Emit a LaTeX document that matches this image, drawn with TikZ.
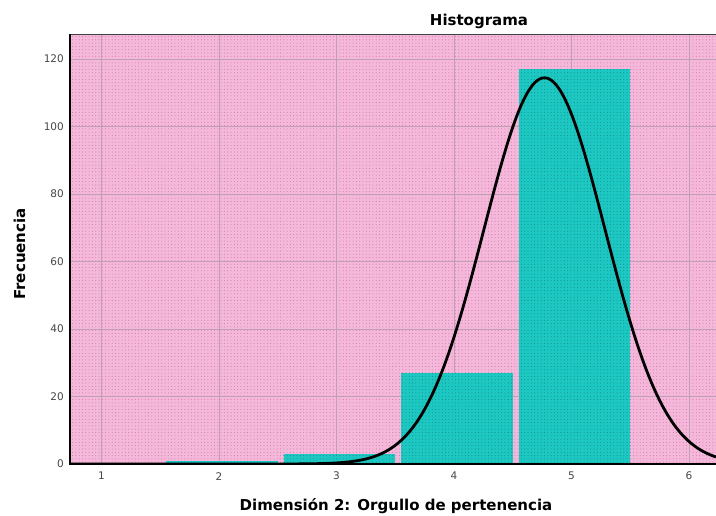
\documentclass[tikz,border=0pt]{standalone}
\usepackage{fontspec}
\setmainfont{DejaVu Sans}
\usetikzlibrary{patterns.meta}
\definecolor{bgpink}{RGB}{246,184,218}
\definecolor{dotpink}{RGB}{200,130,172}
\definecolor{barteal}{RGB}{30,200,194}
\definecolor{dotteal}{RGB}{18,145,145}
\definecolor{gridgrey}{RGB}{190,160,178}
\definecolor{ticktext}{RGB}{70,70,70}
\tikzset{
  gridline/.style={draw=gridgrey, line width=0.9pt},
  barbox/.style={fill=barteal},
  bardots/.style={pattern={Dots[distance=3.3pt, radius=0.55pt]}, pattern color=dotteal},
  bgdots/.style={pattern={Dots[distance=3.3pt, radius=0.55pt]}, pattern color=dotpink},
  axisline/.style={draw=black, line width=2.2pt},
  ylab/.style={anchor=east, text=ticktext, font=\fontsize{10.5}{12}\selectfont, inner sep=0pt},
  xlab/.style={anchor=center, text=ticktext, font=\fontsize{10.5}{12}\selectfont, inner sep=0pt},
  bigtext/.style={font=\fontsize{15}{18}\selectfont\bfseries, inner sep=0pt},
  normalcurve/.style={draw=black, line width=2.8pt}
}
\begin{document}
\begin{tikzpicture}[x=1pt,y=1pt]
\useasboundingbox (0,0) rectangle (716,515);
\fill[white] (0,0) rectangle (716,515);
\begin{scope}[shift={(-16pt,51pt)}, x=117.5pt, y=3.375pt]
  % plot area
  \coordinate (pa-sw) at (0.7319,0);
  \coordinate (pa-ne) at (6.2298,127.4);
  \fill[bgpink] (pa-sw) rectangle (pa-ne);
  \fill[bgdots] (pa-sw) rectangle (pa-ne);
  % grid
  \foreach \v in {20,40,...,120} {
    \draw[gridline] (0.7319,\v) -- (6.2298,\v);
  }
  \foreach \u in {1,...,6} {
    \draw[gridline] (\u,0) -- (\u,127.4);
  }
  % bars
  \foreach \k/\h in {2/1,3/3,4/27,5/117} {
    \fill[barteal] (\k-0.45,0) rectangle (\k+0.5,\h);
    \fill[bardots] (\k-0.45,0) rectangle (\k+0.5,\h);
  }
  % normal curve
  \begin{scope}
    \clip (pa-sw) rectangle (pa-ne);
    \draw[normalcurve] plot[domain=0.7319:6.2298, samples=220, smooth]
      (\x, {114.42*exp(-((\x-4.77)*(\x-4.77))/(0.5325))});
  \end{scope}
  % frame
  \draw[draw=black!75, line width=1pt] (0.7319,127.4) -- (6.2298,127.4);
  \draw[axisline] (0.7319,0) -- (6.2298,0);
  \draw[axisline] (0.7319,-0.3) -- (0.7319,127.4);
  % y tick labels
  \foreach \v in {0,20,40,...,120} {
    \node[ylab] (yl\v) at (0.6809,\v) {\v};
  }
  % x tick labels
  \foreach \u in {1,...,6} {
    \node[xlab] (xl\u) at (\u,-3.6) {\u};
  }
\end{scope}
\node[bigtext, anchor=base] (title) at (479,489.3) {Histograma};
\node[bigtext, anchor=base] (xtitle) at (396,5) {Dimensión 2: Orgullo de pertenencia};
\node[bigtext, anchor=base, rotate=90] (ytitle) at (25,261) {Frecuencia};
\end{tikzpicture}
\end{document}
